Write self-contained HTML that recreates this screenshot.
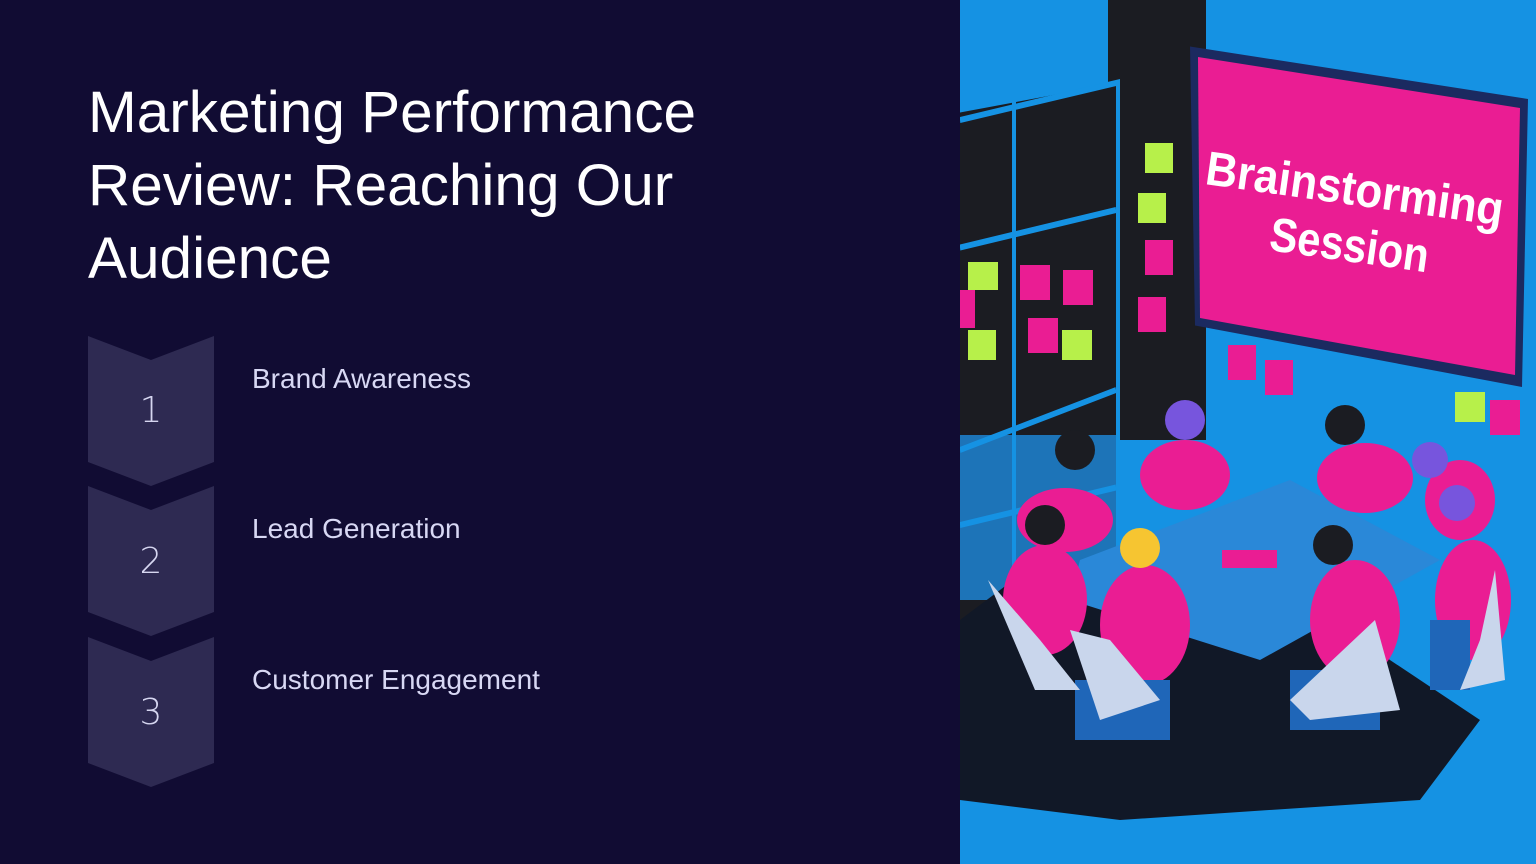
<!DOCTYPE html>
<html><head><meta charset="utf-8"><style>
html,body{margin:0;padding:0}
body{width:1536px;height:864px;background:#110c33;position:relative;overflow:hidden;font-family:"Liberation Sans",sans-serif}
h1{position:absolute;left:88px;top:76px;margin:0;font-weight:normal;color:#fff;font-size:58.5px;line-height:73px;width:760px}
.chev{position:absolute;left:88px;width:126px;height:150px;background:#2e2a52;clip-path:polygon(0 0,50% 24px,100% 0,100% 126px,50% 150px,0 126px)}
.num{position:absolute;left:88px;width:126px;text-align:center;color:#d6d6f0;font-size:36px;font-family:"DejaVu Sans",sans-serif;font-weight:300}
.lbl{position:absolute;left:252px;color:#d8d8f4;font-size:28px}
svg{position:absolute;left:960px;top:0}
</style></head><body>
<h1>Marketing Performance Review: Reaching Our Audience</h1>
<div class="chev" style="top:336px"></div>
<div class="chev" style="top:486px"></div>
<div class="chev" style="top:637px"></div>
<div class="num" style="top:390px">1</div>
<div class="num" style="top:541px">2</div>
<div class="num" style="top:692px">3</div>
<div class="lbl" style="top:363px">Brand Awareness</div>
<div class="lbl" style="top:513px">Lead Generation</div>
<div class="lbl" style="top:664px">Customer Engagement</div>
<svg width="576" height="864" viewBox="0 0 576 864">
<rect width="576" height="864" fill="#1592e3"/>
<rect x="148" y="0" width="98" height="440" fill="#1b1c22"/>
<g transform="scale(1,1.5)">
<polygon points="0,75 160,55 160,400 0,420" fill="#1b1c22"/>
<rect x="0" y="290" width="158" height="110" fill="#1d74b8"/>
<g stroke="#1592e3" stroke-width="4" fill="none">
<polyline points="0,80 158,55 158,400"/>
<line x1="54" y1="65" x2="54" y2="400"/>
<line x1="0" y1="165" x2="156" y2="140"/>
<line x1="0" y1="300" x2="156" y2="260"/>
<line x1="0" y1="350" x2="156" y2="325"/>
</g>
<polygon points="230,31 568,66 562,258 235,217" fill="#1b2a60"/>
<polygon points="238,38 560,72 555,250 240,212" fill="#ea1d93"/>
</g>
<text x="244" y="184" transform="rotate(8 244 184)" font-family="Liberation Sans,sans-serif" font-weight="bold" font-size="48" fill="#fff" textLength="300" lengthAdjust="spacingAndGlyphs">Brainstorming</text>
<text x="308" y="250" transform="rotate(8 308 250)" font-family="Liberation Sans,sans-serif" font-weight="bold" font-size="48" fill="#fff" textLength="160" lengthAdjust="spacingAndGlyphs">Session</text>
<g fill="#b7f04a"><rect x="185" y="143" width="28" height="30"/><rect x="178" y="193" width="28" height="30"/><rect x="8" y="262" width="30" height="28"/><rect x="8" y="330" width="28" height="30"/><rect x="102" y="330" width="30" height="30"/><rect x="495" y="392" width="30" height="30"/></g>
<g fill="#ea1d93"><rect x="185" y="240" width="28" height="35"/><rect x="178" y="297" width="28" height="35"/><rect x="60" y="265" width="30" height="35"/><rect x="103" y="270" width="30" height="35"/><rect x="68" y="318" width="30" height="35"/><rect x="0" y="290" width="15" height="38"/><rect x="268" y="345" width="28" height="35"/><rect x="305" y="360" width="28" height="35"/><rect x="530" y="400" width="30" height="35"/></g>
<polygon points="0,620 80,560 400,640 520,720 460,800 160,820 0,800" fill="#111827"/>
<polygon points="120,560 330,480 480,560 300,660 110,600" fill="#2a88d8"/>
<rect x="262" y="550" width="55" height="18" fill="#ea1d93"/>
<g fill="#ea1d93">
<ellipse cx="105" cy="520" rx="48" ry="32"/>
<ellipse cx="225" cy="475" rx="45" ry="35"/>
<ellipse cx="405" cy="478" rx="48" ry="35"/>
<ellipse cx="500" cy="500" rx="35" ry="40"/>
<ellipse cx="85" cy="600" rx="42" ry="55"/>
<ellipse cx="185" cy="625" rx="45" ry="60"/>
<ellipse cx="395" cy="620" rx="45" ry="60"/>
<ellipse cx="513" cy="600" rx="38" ry="60"/>
</g>
<g fill="#1b1c22"><circle cx="115" cy="450" r="20"/><circle cx="385" cy="425" r="20"/><circle cx="85" cy="525" r="20"/><circle cx="373" cy="545" r="20"/></g>
<g fill="#7755dd"><circle cx="225" cy="420" r="20"/><circle cx="470" cy="460" r="18"/><circle cx="497" cy="503" r="18"/></g>
<circle cx="180" cy="548" r="20" fill="#f6c531"/>
<g fill="#1f66b8"><rect x="115" y="680" width="95" height="60"/><rect x="330" y="670" width="90" height="60"/><rect x="470" y="620" width="40" height="70"/></g>
<g fill="#c9d6ec"><polygon points="28,580 75,690 120,690 80,640"/><polygon points="110,630 140,720 200,700 150,640"/><polygon points="415,620 440,710 350,720 330,700"/><polygon points="535,570 545,680 500,690 520,640"/></g>
</svg>
</body></html>
